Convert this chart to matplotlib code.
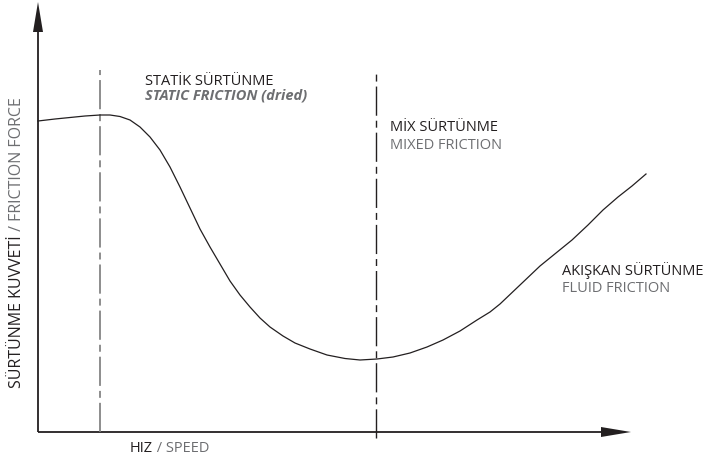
## Stribeck curve: friction force against speed, with the three friction regimes

import matplotlib.pyplot as plt
from matplotlib.patches import Polygon

## =========================================================================
## The data:

# Points along the friction curve (speed, friction force)
speed = [0, 17, 32, 47, 62, 72, 82, 92, 102, 112, 122, 132, 142, 152, 162,
         172, 182, 192, 202, 212, 222, 232, 245, 257, 272, 289, 307, 322, 339,
         355, 372, 389, 405, 422, 439, 452, 462, 482, 502, 518, 534, 550, 565,
         580, 594, 608]
friction = [311, 313, 314.5, 316, 317, 317, 315.5, 312, 305, 295, 282, 265, 245,
            224, 203, 185, 168, 151, 137, 125, 114, 105, 96, 89, 83, 77, 73.5,
            72, 73, 75, 79, 85, 92, 101, 112, 120, 128, 147, 166, 179, 192, 207,
            222, 235, 246, 258]

# Speeds where one friction regime gives way to the next
regime_bounds = [62, 338]

# Regime labels: Turkish name and English name
regime_tr = ['STATİK SÜRTÜNME', 'MİX SÜRTÜNME', 'AKIŞKAN SÜRTÜNME']
regime_en = ['STATIC FRICTION (dried)', 'MIXED FRICTION', 'FLUID FRICTION']

x_label = ['HIZ', ' / SPEED']
y_label = ['SÜRTÜNME KUVVETİ', ' / FRICTION FORCE']

## =========================================================================
## Drawing:

plt.rcParams['font.family'] = ['Open Sans', 'DejaVu Sans']
plt.rcParams['lines.scale_dashes'] = False

dark = '#231f20'
grey = '#6d6e71'
fs = 10.5

fig = plt.figure(figsize=(7.18, 4.61), dpi=100)
ax = fig.add_axes([0, 0, 1, 1])
ax.set_xlim(-38, 680)
ax.set_ylim(-29, 432)
ax.axis('off')

# Axes with arrow heads
x_end, y_end = 593, 430
ax.plot([0, x_end - 28], [0, 0], color=dark, lw=1.3, solid_capstyle='butt')
ax.plot([0, 0], [0, y_end - 28], color=dark, lw=1.3, solid_capstyle='butt')
ax.add_patch(Polygon([[x_end - 30, -5], [x_end, 0], [x_end - 30, 5]],
                     closed=True, color=dark, lw=0))
ax.add_patch(Polygon([[-5, y_end - 30], [0, y_end], [5, y_end - 30]],
                     closed=True, color=dark, lw=0))

# Regime boundaries (dash-dot)
pattern = (0, (21, 3.6, 5, 3.6))
ax.plot([regime_bounds[0]] * 2, [0, 362], color='#7a7a7a', lw=1.2, linestyle=pattern)
ax.plot([regime_bounds[1]] * 2, [-6, 362], color=dark, lw=1.0, linestyle=pattern)

# The friction curve
ax.plot(speed, friction, color=dark, lw=0.9, solid_joinstyle='round')

# Regime labels
ax.text(107, 347, regime_tr[0], color=dark, fontsize=fs, va='baseline')
ax.text(107, 332, regime_en[0], color=grey, fontsize=fs, va='baseline',
        style='italic', weight='bold')
ax.text(352, 301, regime_tr[1], color=dark, fontsize=fs, va='baseline')
ax.text(352, 283, regime_en[1], color=grey, fontsize=fs, va='baseline')
ax.text(524, 157, regime_tr[2], color=dark, fontsize=fs, va='baseline')
ax.text(524, 140, regime_en[2], color=grey, fontsize=fs, va='baseline')

# Axis titles: Turkish part dark, English part grey
tx = ax.text(92, -20, x_label[0], color=dark, fontsize=fs, va='baseline')
ax.annotate(x_label[1], xy=(1, 0), xycoords=tx, color=grey, fontsize=fs,
            va='bottom', ha='left')

ty = ax.text(-21, 44, y_label[0], color=dark, fontsize=11.5, rotation=90,
             ha='center', va='bottom')
ax.annotate(y_label[1], xy=(0.5, 1), xycoords=ty, color=grey, fontsize=11.5,
            rotation=90, ha='center', va='bottom')

fig.savefig('out.png', dpi=100)
